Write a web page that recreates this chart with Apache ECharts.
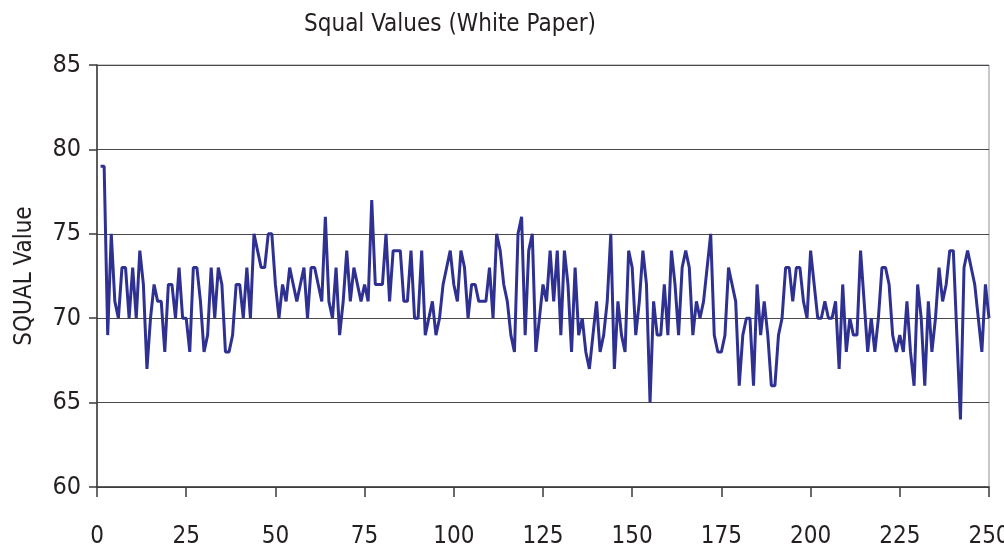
<!DOCTYPE html>
<html>
<head>
<meta charset="utf-8">
<script src="https://cdn.jsdelivr.net/npm/echarts@6/dist/echarts.min.js"></script>
<style>
  html, body { margin: 0; padding: 0; background: #fff; }
  #squal_chart { width: 1004px; height: 550px; }
</style>
</head>
<body>
<div id="squal_chart"></div>
<script>
  // sample number on x, squal value on y
  var squalValues = [
    79, 79, 69, 75, 71, 70, 73, 73, 70, 73,
    70, 74, 72, 67, 70, 72, 71, 71, 68, 72,
    72, 70, 73, 70, 70, 68, 73, 73, 71, 68,
    69, 73, 70, 73, 72, 68, 68, 69, 72, 72,
    70, 73, 70, 75, 74, 73, 73, 75, 75, 72,
    70, 72, 71, 73, 72, 71, 72, 73, 70, 73,
    73, 72, 71, 76, 71, 70, 73, 69, 71, 74,
    71, 73, 72, 71, 72, 71, 77, 72, 72, 72,
    75, 71, 74, 74, 74, 71, 71, 74, 70, 70,
    74, 69, 70, 71, 69, 70, 72, 73, 74, 72,
    71, 74, 73, 70, 72, 72, 71, 71, 71, 73,
    70, 75, 74, 72, 71, 69, 68, 75, 76, 69,
    74, 75, 68, 70, 72, 71, 74, 71, 74, 69,
    74, 72, 68, 73, 69, 70, 68, 67, 69, 71,
    68, 69, 71, 75, 67, 71, 69, 68, 74, 73,
    69, 71, 74, 72, 65, 71, 69, 69, 72, 69,
    74, 72, 69, 73, 74, 73, 69, 71, 70, 71,
    73, 75, 69, 68, 68, 69, 73, 72, 71, 66,
    69, 70, 70, 66, 72, 69, 71, 69, 66, 66,
    69, 70, 73, 73, 71, 73, 73, 71, 70, 74,
    72, 70, 70, 71, 70, 70, 71, 67, 72, 68,
    70, 69, 69, 74, 71, 68, 70, 68, 70, 73,
    73, 72, 69, 68, 69, 68, 71, 68, 66, 72,
    70, 66, 71, 68, 70, 73, 71, 72, 74, 74,
    69, 64, 73, 74, 73, 72, 70, 68, 72, 70
  ];
  var xTicks = [0, 25, 50, 75, 100, 125, 150, 175, 200, 225, 250];
  var yTicks = [60, 65, 70, 75, 80, 85];

  var font = '"DejaVu Sans Condensed", "Liberation Sans Narrow", "Roboto", sans-serif';
  var seriesData = squalValues.map(function (v, i) { return [i + 1, v]; });

  var chart = echarts.init(document.getElementById('squal_chart'), null, { renderer: 'canvas' });
  var option = {
    animation: false,
    backgroundColor: '#ffffff',
    title: {
      text: 'Squal Values (White Paper)',
      left: 445,
      top: 8,
      textAlign: 'center',
      textStyle: { fontFamily: font, fontSize: 24, fontWeight: 'normal', color: '#231f20' }
    },
    grid: {
      left: 97, right: 15, top: 65, bottom: 63,
      outerBoundsMode: 'none',
      containLabel: false,
      show: true, borderColor: '#8c9196', borderWidth: 1
    },
    xAxis: {
      type: 'value',
      min: xTicks[0],
      max: xTicks[xTicks.length - 1],
      interval: 25,
      axisLine: { show: true, onZero: false, lineStyle: { color: '#3a3a3a', width: 1.5 } },
      axisTick: { show: true, length: 10, lineStyle: { color: '#3a3a3a', width: 1.5 } },
      axisLabel: { margin: 38, fontFamily: font, fontSize: 24, color: '#231f20' },
      splitLine: { show: false }
    },
    yAxis: {
      type: 'value',
      min: yTicks[0],
      max: yTicks[yTicks.length - 1],
      interval: 5,
      name: 'SQUAL Value',
      nameLocation: 'middle',
      nameGap: 60,
      nameTextStyle: { fontFamily: font, fontSize: 24, color: '#231f20' },
      axisLine: { show: true, lineStyle: { color: '#3a3a3a', width: 1.5 } },
      axisTick: { show: true, length: 8, lineStyle: { color: '#3a3a3a', width: 1.5 } },
      axisLabel: { margin: 16, fontFamily: font, fontSize: 25, color: '#231f20' },
      splitLine: { show: true, lineStyle: { color: '#4a4a4a', width: 1 } }
    },
    series: [{
      type: 'line',
      data: seriesData,
      showSymbol: false,
      lineStyle: { color: '#2e3192', width: 3 },
      itemStyle: { color: '#2e3192' }
    }]
  };
  chart.setOption(option);
  window.addEventListener('resize', function () {
    chart.resize();
  });
</script>
</body>
</html>
